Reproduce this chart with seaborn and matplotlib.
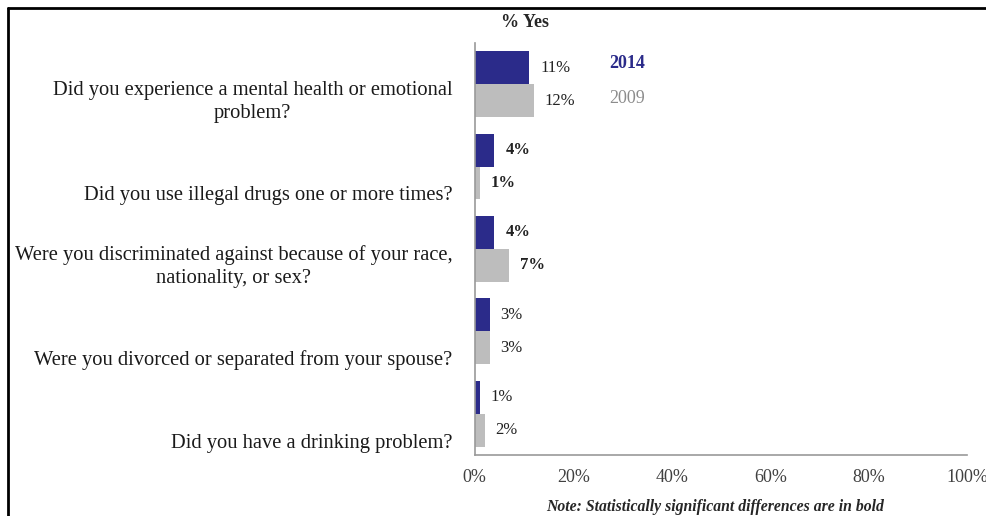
import pandas as pd
import seaborn as sns
import matplotlib
matplotlib.use('Agg')
import matplotlib.pyplot as plt
from matplotlib.lines import Line2D

# Data
questions = [
    'Did you experience a mental health or emotional\nproblem?',
    'Did you use illegal drugs one or more times?',
    'Were you discriminated against because of your race,\nnationality, or sex?',
    'Were you divorced or separated from your spouse?',
    'Did you have a drinking problem?',
]
years = ['2014', '2009']
pct_2014 = [11, 4, 4, 3, 1]
pct_2009 = [12, 1, 7, 3, 2]
# statistically significant (bold) labels
bold_2014 = [False, True, True, False, False]
bold_2009 = [False, True, True, False, False]
xticks = [0, 20, 40, 60, 80, 100]

colors = {'2014': '#2B2B8A', '2009': '#BDBDBD'}

df = pd.DataFrame({
    'question': questions * 2,
    'year': ['2014'] * len(questions) + ['2009'] * len(questions),
    'pct': pct_2014 + pct_2009,
})

sns.set_style('white')
plt.rcParams['font.family'] = ['Liberation Serif', 'DejaVu Serif']

fig = plt.figure(figsize=(9.87, 5.16), dpi=100)
ax = fig.add_axes([0.481, 0.118, 0.499, 0.799])

sns.barplot(data=df, y='question', x='pct', hue='year', hue_order=years,
            order=questions, palette=colors, width=0.8, legend=False,
            saturation=1, linewidth=0, ax=ax)

ax.set_xlim(0, 100)
ax.set_ylim(len(questions) - 0.5, -0.5)
ax.set_xticks(xticks)
ax.set_xticklabels([f'{t}%' for t in xticks], fontsize=13, color='#404040')
ax.tick_params(axis='x', length=0, pad=10)

# category labels sit near the bottom of each band
ax.set_yticks([i + 0.47 for i in range(len(questions))])
ax.set_yticklabels(questions, fontsize=14.8, color='#1a1a1a',
                   va='bottom', multialignment='center', linespacing=1.3)
ax.tick_params(axis='y', which='major', length=0, pad=16)
ax.set_yticks([i - 0.5 for i in range(len(questions) + 1)], minor=True)
ax.tick_params(axis='y', which='minor', length=5, color='#888888', width=1)
ax.set_xlabel('')
ax.set_ylabel('')

for s in ['top', 'right']:
    ax.spines[s].set_visible(False)
for s in ['left', 'bottom']:
    ax.spines[s].set_color('#999999')
    ax.spines[s].set_linewidth(1.2)

# value labels
for cont, vals, bolds in zip(ax.containers, [pct_2014, pct_2009], [bold_2014, bold_2009]):
    texts = ax.bar_label(cont, labels=[f'{v}%' for v in vals], padding=8,
                         fontsize=12, color='#222222')
    for t, b in zip(texts, bolds):
        t.set_fontweight('bold' if b else 'normal')

# year key
ax.text(27.3, 0 - 0.25, '2014', color=colors['2014'], fontsize=13,
        fontweight='bold', va='center')
ax.text(27.3, 0 + 0.17, '2009', color='#8c8c8c', fontsize=13, va='center')

fig.text(0.532, 0.957, '% Yes', fontsize=13, fontweight='bold',
         ha='center', va='center')
fig.text(0.724, 0.018, 'Note: Statistically significant differences are in bold',
         fontsize=11.3, fontweight='bold', style='italic', ha='center', va='center')

# frame around the figure area
fig.add_artist(Line2D([0.008, 1.0], [0.985, 0.985], color='black', lw=2,
                      transform=fig.transFigure))
fig.add_artist(Line2D([0.008, 0.008], [0.0, 0.985], color='black', lw=2,
                      transform=fig.transFigure))

fig.savefig('out.png', dpi=100)
